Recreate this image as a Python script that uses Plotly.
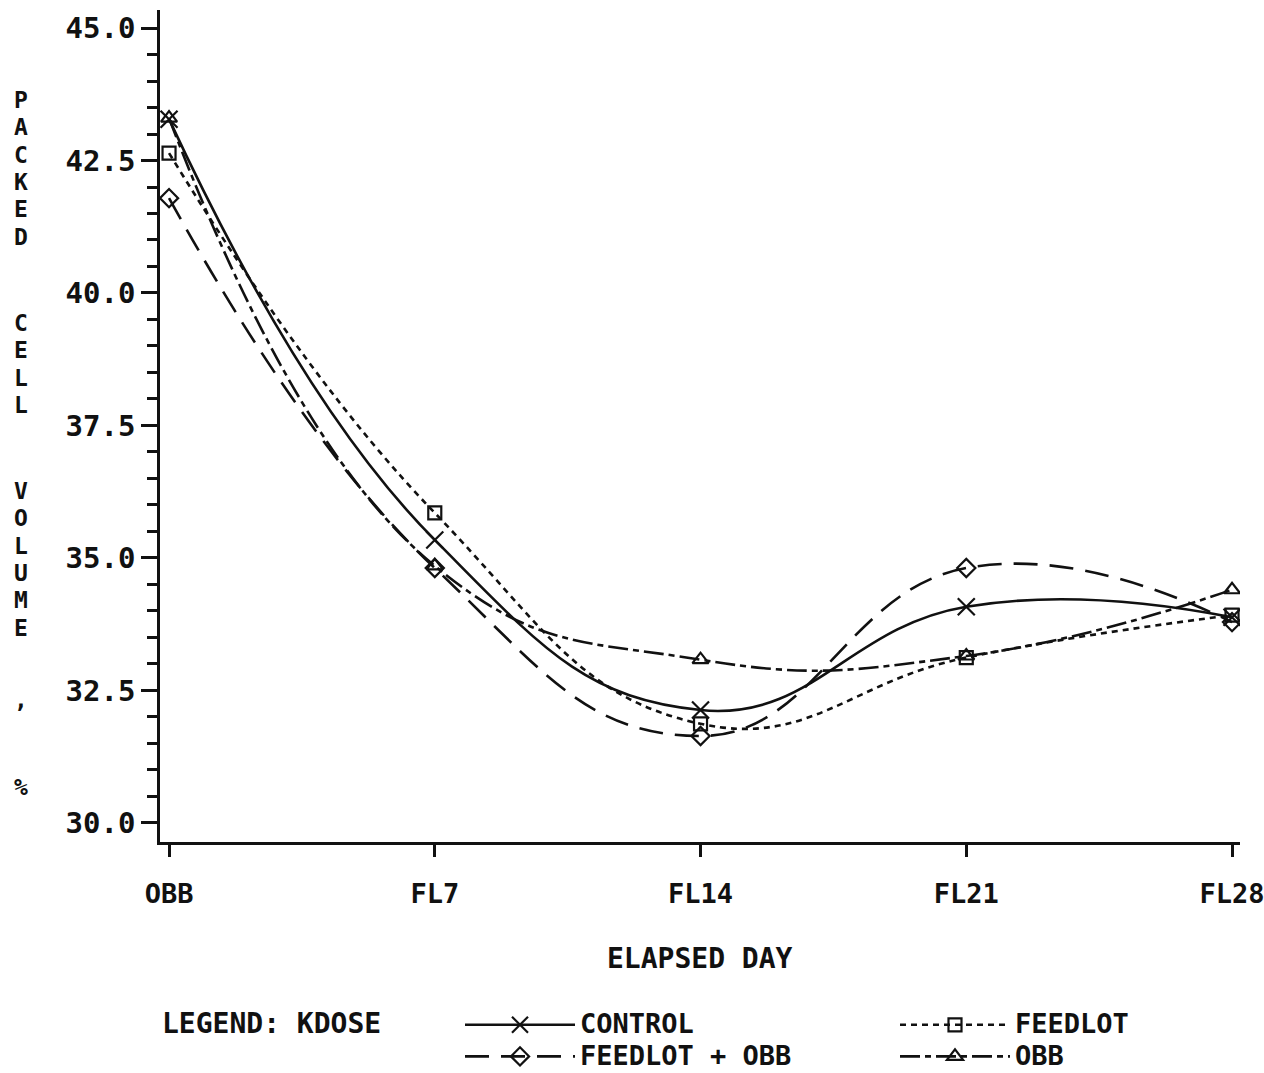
import plotly.graph_objects as go

days = ["OBB", "FL7", "FL14", "FL21", "FL28"]
control = [43.28, 35.34, 32.13, 34.08, 33.88]
feedlot = [42.64, 35.85, 31.87, 33.12, 33.92]
feedlot_obb = [41.79, 34.81, 31.64, 34.81, 33.79]
obb = [43.3, 34.85, 33.08, 33.15, 34.4]

y_ticks = [30.0, 32.5, 35.0, 37.5, 40.0, 42.5, 45.0]
y_ticktext = ["30.0", "32.5", "35.0", "37.5", "40.0", "42.5", "45.0"]

FONT = "DejaVu Sans Mono"
BLACK = "#111111"

# name, values, dash, marker symbol, marker size, legend id
series = [
    ("CONTROL", control, "solid", "x-thin-open", 17, "legend"),
    ("FEEDLOT", feedlot, "6px,5px", "square-open", 13, "legend2"),
    ("FEEDLOT + OBB", feedlot_obb, "24px,12px", "diamond-open", 14, "legend"),
    ("OBB", obb, "20px,5px,6px,5px", "triangle-up-open", 14, "legend2"),
]

W, H = 1264, 1073
L, R, T, B = 160, 24, 10, 231
PW, PH = W - L - R, H - T - B


def px_x(x):
    return (x - L) / PW


def px_y(y):
    return (H - B - y) / PH


fig = go.Figure()
for name, vals, dash, sym, size, leg in series:
    fig.add_trace(go.Scatter(
        x=list(range(len(days))), y=vals,
        name='<span style="font-size:27px">%s</span>' % name,
        mode="lines+markers", legend=leg,
        line=dict(color=BLACK, width=2.6, dash=dash, shape="spline", smoothing=1.3),
        marker=dict(symbol=sym, size=size, color=BLACK, line=dict(color=BLACK, width=2.2)),
        hovertemplate=name + ": %{y}<extra></extra>",
    ))

legend_common = dict(
    orientation="v", yanchor="top", y=px_y(1004), xanchor="left",
    font=dict(family=FONT, size=22, weight="bold", color=BLACK),
    itemwidth=110, traceorder="normal", bgcolor="rgba(0,0,0,0)", borderwidth=0,
)

fig.update_layout(
    width=W, height=H,
    margin=dict(l=L, r=R, t=T, b=B, autoexpand=False),
    paper_bgcolor="white", plot_bgcolor="white",
    font=dict(family=FONT, size=27, color=BLACK),
    showlegend=True,
    legend=dict(x=px_x(460), **legend_common),
    legend2=dict(x=px_x(895), **legend_common),
)

fig.update_xaxes(
    range=[-0.034, 4.03], tickmode="array", tickvals=list(range(len(days))), ticktext=days,
    showline=True, linecolor=BLACK, linewidth=2.5, mirror=False, showgrid=False, zeroline=False,
    ticks="outside", ticklen=12, tickwidth=2.5, tickcolor=BLACK,
    tickfont=dict(family=FONT, size=27, weight="bold"), ticklabelstandoff=14,
    ticklabeloverflow="allow",
)
fig.update_yaxes(
    range=[29.64, 45.34], tickmode="array", tickvals=y_ticks, ticktext=y_ticktext,
    showline=True, linecolor=BLACK, linewidth=2.5, mirror=False, showgrid=False, zeroline=False,
    ticks="outside", ticklen=16, tickwidth=2.5, tickcolor=BLACK,
    tickfont=dict(family=FONT, size=29, weight="bold"), ticklabelstandoff=0,
    minor=dict(dtick=0.5, tick0=30, ticks="outside", ticklen=10, tickwidth=2.5, tickcolor=BLACK, showgrid=False),
)

# x-axis title
fig.add_annotation(text="<b>ELAPSED DAY</b>", xref="paper", yref="paper",
                   x=px_x(700), y=px_y(958), xanchor="center", yanchor="middle",
                   showarrow=False, font=dict(family=FONT, size=28))

# legend heading
fig.add_annotation(text="<b>LEGEND: KDOSE</b>", xref="paper", yref="paper",
                   x=px_x(160), y=px_y(1023), xanchor="left", yanchor="middle",
                   showarrow=False, font=dict(family=FONT, size=28))

# vertical y-axis title, one character per row, grouped by word
ytitle_words = ["PACKED", "CELL", "VOLUME", ",", "%"]
ytitle_centers = [168, 363.5, 559.5, 700, 787]
for word, yc in zip(ytitle_words, ytitle_centers):
    stacked = "<br>".join('<span style="font-size:23px">%s</span>' % c for c in word)
    fig.add_annotation(text="<b>%s</b>" % stacked, xref="paper", yref="paper",
                       x=px_x(21), y=px_y(yc), xanchor="center", yanchor="middle",
                       showarrow=False, font=dict(family=FONT, size=21))

fig.write_html("out.html")
